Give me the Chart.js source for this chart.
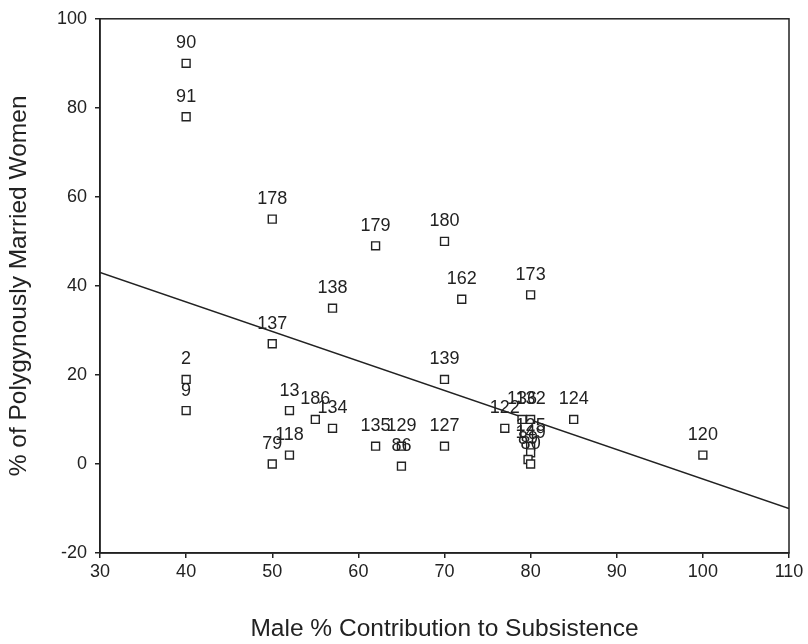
<!DOCTYPE html>
<html>
<head>
<meta charset="utf-8">
<script src="https://cdn.jsdelivr.net/npm/chart.js@4.4.1/dist/chart.umd.min.js"></script>
<style>
html,body{margin:0;padding:0;background:#fff;}
#wrap{width:808px;height:644px;}
</style>
</head>
<body>
<div id="wrap"><canvas id="c" width="808" height="644"></canvas></div>
<script>
// Society ids, male % contribution to subsistence, % polygynously married women
const societyIds = ['90','91','178','179','180','162','173','138','137','2','9','139','13','186','134','135','129','86','79','118','127','122','124','120','136','132','125','149','89','80'];
const maleContribution = [40,40,50,62,70,72,80,57,50,40,40,70,52,55,57,62,65,65,50,52,70,77,85,100,79,80,80,80,79.7,80];
const polygynyPct = [90,78,55,49,50,37,38,35,27,19,12,19,12,10,8,4,4,-0.5,0,2,4,8,10,2,10,10,4,2.5,1,0];
// Fitted regression line endpoints
const fitX = [30,110];
const fitY = [43,-10];
// Axis ticks
const xTicks = [30,40,50,60,70,80,90,100,110];
const yTicks = [-20,0,20,40,60,80,100];

const FONT = "'Liberation Sans', Arial, Helvetica, sans-serif";
const INK = '#222';

const points = maleContribution.map((x,i)=>({x:x, y:polygynyPct[i], id:societyIds[i]}));
const fitLine = fitX.map((x,i)=>({x:x, y:fitY[i]}));

const decor = {
  id:'decor',
  afterDatasetsDraw(chart){
    const ctx = chart.ctx;
    const a = chart.chartArea;
    ctx.save();
    ctx.strokeStyle = INK;
    ctx.lineWidth = 1.5;
    ctx.strokeRect(a.left, a.top, a.right - a.left, a.bottom - a.top);
    const meta = chart.getDatasetMeta(0);
    ctx.fillStyle = INK;
    ctx.font = "18px " + FONT;
    ctx.textAlign = 'center';
    ctx.textBaseline = 'middle';
    meta.data.forEach((el,i)=>{
      ctx.fillText(points[i].id, el.x, el.y - 20);
    });
    ctx.restore();
  }
};

new Chart(document.getElementById('c'), {
  type:'scatter',
  data:{
    datasets:[
      {
        type:'scatter',
        data: points,
        pointStyle:'rect',
        pointRadius:5.6,
        pointBorderWidth:1.4,
        pointBorderColor:INK,
        pointBackgroundColor:'#fff'
      },
      {
        type:'line',
        data: fitLine,
        borderColor:INK,
        borderWidth:1.5,
        pointRadius:0,
        fill:false
      }
    ]
  },
  options:{
    responsive:false,
    animation:false,
    layout:{padding:{top:15,right:19,left:0,bottom:0}},
    plugins:{legend:{display:false}, tooltip:{enabled:false}},
    scales:{
      x:{
        type:'linear', min:30, max:110,
        afterBuildTicks(s){ s.ticks = xTicks.map(v=>({value:v})); },
        afterFit(s){ s.height = 91; },
        grid:{drawOnChartArea:false, drawTicks:true, tickLength:5, color:INK, lineWidth:1.5},
        border:{display:true, color:INK, width:1.5},
        ticks:{color:INK, font:{family:FONT, size:18}, padding:3, maxRotation:0},
        title:{display:true, text:'Male % Contribution to Subsistence', color:INK, font:{family:FONT, size:24.5}, padding:{top:0,bottom:0}}
      },
      y:{
        type:'linear', min:-20, max:100,
        afterBuildTicks(s){ s.ticks = yTicks.map(v=>({value:v})); },
        afterFit(s){ s.width = 100; },
        grid:{drawOnChartArea:false, drawTicks:true, tickLength:5, color:INK, lineWidth:1.5},
        border:{display:true, color:INK, width:1.5},
        ticks:{color:INK, font:{family:FONT, size:18}, padding:8},
        title:{display:true, text:'% of Polygynously Married Women', color:INK, font:{family:FONT, size:24.5}, padding:{top:5,bottom:0}}
      }
    }
  },
  plugins:[decor]
});
</script>
</body>
</html>
